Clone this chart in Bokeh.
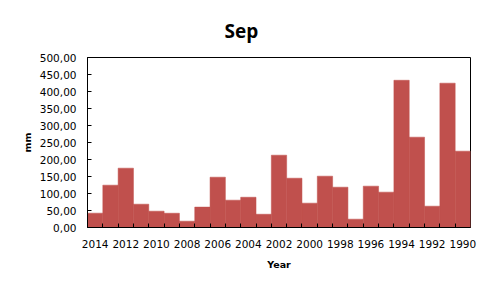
from bokeh.plotting import figure
from bokeh.models import Range1d, FixedTicker, Title
from bokeh.embed import file_html
from bokeh.resources import INLINE

years = [2014, 2013, 2012, 2011, 2010, 2009, 2008, 2007, 2006, 2005, 2004, 2003, 2002,
         2001, 2000, 1999, 1998, 1997, 1996, 1995, 1994, 1993, 1992, 1991, 1990]
rain_mm = [42.2, 124.5, 174.5, 68.6, 48.0, 42.0, 18.6, 60.0, 148.0, 80.4, 89.0, 39.0, 212.7,
           145.0, 71.6, 151.0, 118.6, 24.5, 121.6, 104.0, 433.0, 265.7, 62.7, 424.5, 224.5]
label_years = [2014, 2012, 2010, 2008, 2006, 2004, 2002, 2000, 1998, 1996, 1994, 1992, 1990]
y_ticks = [0, 50, 100, 150, 200, 250, 300, 350, 400, 450, 500]
y_tick_labels = ["0,00", "50,00", "100,00", "150,00", "200,00", "250,00", "300,00",
                 "350,00", "400,00", "450,00", "500,00"]

p = figure(width=480, height=280, output_backend="svg", toolbar_location=None,
           x_range=Range1d(years[0] + 0.5, years[-1] - 0.5), y_range=Range1d(0, 500),
           min_border_left=87, min_border_right=10, min_border_top=57, min_border_bottom=53)
p.background_fill_color = "white"
p.border_fill_color = "white"
p.outline_line_color = "black"
p.outline_line_width = 1
p.grid.visible = False

p.title = Title(text="Sep", align="left", offset=137, standoff=28,
                text_font="Open Sans", text_font_style="bold", text_font_size="19px",
                text_color="black")

p.vbar(x=years, top=rain_mm, width=1.0, fill_color="#C0504D", line_color="#C0504D",
       line_width=0.5)

boundaries = [y + 0.5 for y in years[1:]]
xa = p.xaxis[0]
xa.ticker = FixedTicker(ticks=label_years, minor_ticks=boundaries)
xa.major_tick_in = 0
xa.major_tick_out = 0
xa.minor_tick_in = 4
xa.minor_tick_out = 0
xa.minor_tick_line_color = "black"
xa.axis_line_color = "black"
xa.major_label_text_font = "DejaVu Sans"
xa.major_label_text_font_size = "10.5px"
xa.major_label_text_color = "black"
xa.major_label_standoff = 12
xa.axis_label = "Year"
xa.axis_label_text_font = "DejaVu Sans"
xa.axis_label_text_font_style = "bold"
xa.axis_label_text_font_size = "9.5px"
xa.axis_label_text_color = "black"
xa.axis_label_standoff = 8

ya = p.yaxis[0]
ya.ticker = FixedTicker(ticks=y_ticks)
ya.major_label_overrides = {t: s for t, s in zip(y_ticks, y_tick_labels)}
ya.major_tick_in = 4
ya.major_tick_out = 0
ya.minor_tick_in = 0
ya.minor_tick_out = 0
ya.axis_line_color = "black"
ya.major_label_text_font = "DejaVu Sans"
ya.major_label_text_font_size = "10.5px"
ya.major_label_text_color = "black"
ya.major_label_standoff = 11
ya.axis_label = "mm"
ya.axis_label_text_font = "DejaVu Sans"
ya.axis_label_text_font_style = "bold"
ya.axis_label_text_font_size = "9.5px"
ya.axis_label_text_color = "black"
ya.axis_label_standoff = 4

open("out.html", "w").write(file_html(p, INLINE))
